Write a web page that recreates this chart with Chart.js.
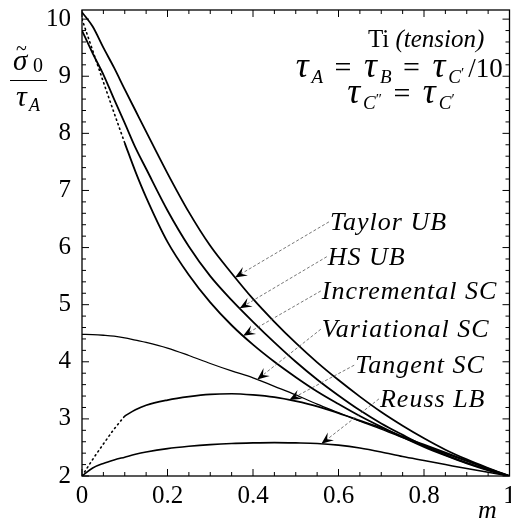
<!DOCTYPE html>
<html>
<head>
<meta charset="utf-8">
<script src="https://cdn.jsdelivr.net/npm/chart.js@4.4.1/dist/chart.umd.min.js"></script>
<style>
  html, body { margin: 0; padding: 0; background: #fff; }
</style>
</head>
<body>
<canvas id="chart" width="511" height="523"></canvas>
<script>
// abscissa m, shared by every curve
const mGrid = [0, 0.025, 0.05, 0.075, 0.1, 0.125, 0.15, 0.2, 0.25, 0.3, 0.35, 0.4, 0.45, 0.5, 0.55, 0.6, 0.65, 0.7, 0.75, 0.8, 0.85, 0.9, 0.95, 1];

const taylorUB      = [10.12, 9.87, 9.50, 9.15, 8.77, 8.40, 8.03, 7.30, 6.62, 6.03, 5.55, 5.10, 4.70, 4.33, 3.99, 3.68, 3.39, 3.12, 2.88, 2.66, 2.46, 2.29, 2.14, 2.0];
const hsUB          = [9.80, 9.40, 9.03, 8.60, 8.18, 7.75, 7.38, 6.65, 6.02, 5.50, 5.08, 4.70, 4.34, 4.00, 3.69, 3.41, 3.15, 2.92, 2.72, 2.53, 2.37, 2.23, 2.11, 2.0];
const incrementalSC = [null, null, null, null, 7.83, 7.33, 6.88, 6.10, 5.52, 5.04, 4.64, 4.30, 4.00, 3.73, 3.48, 3.26, 3.05, 2.86, 2.68, 2.51, 2.36, 2.22, 2.10, 2.0];
const variationalSC = [4.48, 4.475, 4.465, 4.45, 4.42, 4.38, 4.34, 4.24, 4.11, 3.97, 3.84, 3.72, 3.57, 3.42, 3.26, 3.11, 2.96, 2.82, 2.67, 2.53, 2.39, 2.26, 2.13, 2.0];
const tangentSC     = [null, null, null, null, 3.05, 3.16, 3.24, 3.33, 3.39, 3.43, 3.44, 3.42, 3.38, 3.31, 3.22, 3.10, 2.97, 2.84, 2.69, 2.55, 2.41, 2.27, 2.13, 2.0];
const reussLB       = [2.0, 2.14, 2.22, 2.28, 2.33, 2.38, 2.42, 2.48, 2.52, 2.55, 2.57, 2.58, 2.585, 2.58, 2.57, 2.54, 2.49, 2.42, 2.34, 2.27, 2.20, 2.13, 2.065, 2.0];

// dotted start of the incremental and tangent curves
const mDotted = [0, 0.025, 0.05, 0.075, 0.1];
const incrementalDotted = [10.0, 9.45, 8.90, 8.36, 7.83];
const tangentDotted     = [2.0, 2.29, 2.56, 2.82, 3.05];

const xTicks = [0, 0.2, 0.4, 0.6, 0.8, 1];
const yTicks = [2, 3, 4, 5, 6, 7, 8, 9, 10];

const SERIF = "'Liberation Serif', 'DejaVu Serif', serif";

// labels with leader arrows (anchor in data units, arrow tip on the curve at tipM)
const callouts = [
    { text: 'Taylor UB',      series: taylorUB,      m: 0.580, v: 6.31, tipM: 0.358 },
    { text: 'HS UB',          series: hsUB,          m: 0.575, v: 5.70, tipM: 0.369 },
    { text: 'Incremental SC', series: incrementalSC, m: 0.561, v: 5.10, tipM: 0.377 },
    { text: 'Variational SC', series: variationalSC, m: 0.561, v: 4.43, tipM: 0.410 },
    { text: 'Tangent SC',     series: tangentSC,     m: 0.639, v: 3.80, tipM: 0.485 },
    { text: 'Reuss LB',       series: reussLB,       m: 0.697, v: 3.21, tipM: 0.560 }
];

const valueAt = (series, m) => {
    for (let i = 0; i < mGrid.length - 1; i++) {
        if (m >= mGrid[i] && m <= mGrid[i + 1]) {
            const t = (m - mGrid[i]) / (mGrid[i + 1] - mGrid[i]);
            return series[i] + t * (series[i + 1] - series[i]);
        }
    }
    return series[series.length - 1];
};

const curve = (label, xs, ys, width, dotted) => ({
    label,
    data: xs.map((m, i) => ({ x: m, y: ys[i] })).filter(p => p.y !== null),
    showLine: true,
    borderColor: '#000',
    borderWidth: width,
    borderDash: dotted ? [1.2, 3.6] : [],
    borderCapStyle: dotted ? 'round' : 'butt',
    pointRadius: 0,
    cubicInterpolationMode: 'monotone',
    fill: false
});

// draw a run of text pieces (different fonts / offsets) centred at cx
const drawRuns = (ctx, runs, cx, base) => {
    let total = 0;
    runs.forEach(r => { ctx.font = r.f; total += ctx.measureText(r.t).width + (r.gap || 0); });
    let x = cx - total / 2;
    runs.forEach(r => {
        ctx.font = r.f;
        ctx.fillText(r.t, x, base + (r.dy || 0));
        x += ctx.measureText(r.t).width + (r.gap || 0);
    });
};

const frameTicks = {
    id: 'frameTicks',
    afterDatasetsDraw(chart) {
        const { ctx, chartArea: a, scales: { x, y } } = chart;
        ctx.save();
        ctx.strokeStyle = '#000';
        ctx.lineWidth = 1.3;
        ctx.strokeRect(a.left, a.top, a.right - a.left, a.bottom - a.top);
        ctx.lineWidth = 1;
        ctx.beginPath();
        for (let i = 0; i <= 20; i++) {
            const px = x.getPixelForValue(i * 0.05);
            const len = i % 4 === 0 ? 7 : 4;
            ctx.moveTo(px, a.bottom); ctx.lineTo(px, a.bottom - len);
            ctx.moveTo(px, a.top); ctx.lineTo(px, a.top + len);
        }
        for (let i = 0; i <= 40; i++) {
            const py = y.getPixelForValue(2 + i * 0.2);
            if (py < a.top) continue;
            const len = i % 5 === 0 ? 7 : 4;
            ctx.moveTo(a.left, py); ctx.lineTo(a.left + len, py);
            ctx.moveTo(a.right, py); ctx.lineTo(a.right - len, py);
        }
        ctx.stroke();
        ctx.restore();
    }
};

const annotations = {
    id: 'annotations',
    afterDraw(chart) {
        const { ctx, scales: { x, y } } = chart;
        ctx.save();
        ctx.fillStyle = '#000';
        ctx.textBaseline = 'alphabetic';

        // y axis title: sigma~_0 / tau_A
        ctx.textAlign = 'left';
        ctx.font = `italic 29px ${SERIF}`;
        ctx.fillText('σ', 13, 70);
        ctx.font = `20px ${SERIF}`;
        ctx.fillText('~', 16, 55);
        ctx.fillText('0', 33, 72);
        ctx.strokeStyle = '#000';
        ctx.lineWidth = 1;
        ctx.beginPath(); ctx.moveTo(10, 80.5); ctx.lineTo(47, 80.5); ctx.stroke();
        ctx.font = `italic 30px ${SERIF}`;
        ctx.fillText('τ', 16, 106);
        ctx.font = `italic 18px ${SERIF}`;
        ctx.fillText('A', 29, 111);

        // x axis title
        ctx.font = `italic 26px ${SERIF}`;
        ctx.fillText('m', 478, 518);

        // material / parameter block
        const up = `25px ${SERIF}`, it = `italic 25px ${SERIF}`;
        const tau = `italic 36px ${SERIF}`, sub = `italic 19px ${SERIF}`, pr = `15px ${SERIF}`;
        const eq = `30px ${SERIF}`, ten = `27px ${SERIF}`;
        drawRuns(ctx, [{ t: 'Ti ', f: up }, { t: '(tension)', f: it }], x.getPixelForValue(0.805), y.getPixelForValue(9.51));
        drawRuns(ctx, [
            { t: 'τ', f: tau, gap: 3 }, { t: 'A', f: sub, dy: 6, gap: 4 }, { t: ' = ', f: eq, gap: 5 },
            { t: 'τ', f: tau, gap: 3 }, { t: 'B', f: sub, dy: 6, gap: 4 }, { t: ' = ', f: eq, gap: 5 },
            { t: 'τ', f: tau, gap: 3 }, { t: 'C', f: sub, dy: 6 }, { t: '′', f: pr, dy: 1, gap: 4 }, { t: '/10', f: ten }
        ], x.getPixelForValue(0.742), y.getPixelForValue(8.99));
        drawRuns(ctx, [
            { t: 'τ', f: tau, gap: 3 }, { t: 'C', f: sub, dy: 6 }, { t: '″', f: pr, dy: 1, gap: 4 }, { t: ' = ', f: eq, gap: 5 },
            { t: 'τ', f: tau, gap: 3 }, { t: 'C', f: sub, dy: 6 }, { t: '′', f: pr, dy: 1 }
        ], x.getPixelForValue(0.746), y.getPixelForValue(8.53));

        // curve labels with leader lines and arrow heads
        ctx.letterSpacing = '1px';
        callouts.forEach(c => {
            const lx = x.getPixelForValue(c.m);
            const ly = y.getPixelForValue(c.v);
            ctx.font = `italic 26px ${SERIF}`;
            ctx.textAlign = 'left';
            ctx.fillText(c.text, lx, ly);

            const sx = lx - 1, sy = ly - 8;
            const tx = x.getPixelForValue(c.tipM);
            const ty = y.getPixelForValue(valueAt(c.series, c.tipM));
            ctx.strokeStyle = '#555';
            ctx.lineWidth = 0.8;
            ctx.setLineDash([3, 2]);
            ctx.beginPath(); ctx.moveTo(sx, sy); ctx.lineTo(tx, ty); ctx.stroke();
            ctx.setLineDash([]);

            const ang = Math.atan2(ty - sy, tx - sx);
            const L = 12, W = 5;
            ctx.beginPath();
            ctx.moveTo(tx, ty);
            ctx.lineTo(tx - L * Math.cos(ang) + W * Math.sin(ang), ty - L * Math.sin(ang) - W * Math.cos(ang));
            ctx.lineTo(tx - 0.6 * L * Math.cos(ang), ty - 0.6 * L * Math.sin(ang));
            ctx.lineTo(tx - L * Math.cos(ang) - W * Math.sin(ang), ty - L * Math.sin(ang) + W * Math.cos(ang));
            ctx.closePath();
            ctx.fill();
        });
        ctx.restore();
    }
};

new Chart(document.getElementById('chart'), {
    type: 'scatter',
    plugins: [frameTicks, annotations],
    data: {
        datasets: [
            curve('Taylor UB', mGrid, taylorUB, 1.8, false),
            curve('HS UB', mGrid, hsUB, 1.8, false),
            curve('Incremental SC', mGrid, incrementalSC, 1.8, false),
            curve('Incremental SC (start)', mDotted, incrementalDotted, 1.6, true),
            curve('Variational SC', mGrid, variationalSC, 1.3, false),
            curve('Tangent SC', mGrid, tangentSC, 1.7, false),
            curve('Tangent SC (start)', mDotted, tangentDotted, 1.6, true),
            curve('Reuss LB', mGrid, reussLB, 1.6, false)
        ]
    },
    options: {
        responsive: false,
        animation: false,
        layout: { padding: { top: 10, right: 1.5, left: 0, bottom: 0 } },
        plugins: { legend: { display: false }, tooltip: { enabled: false } },
        scales: {
            x: {
                type: 'linear', min: 0, max: 1,
                grid: { display: false, drawTicks: false },
                border: { display: false },
                ticks: {
                    color: '#000', padding: 5, maxRotation: 0, autoSkip: false,
                    font: { family: SERIF, size: 25 },
                    callback: v => String(+v.toFixed(1))
                },
                afterBuildTicks: s => { s.ticks = xTicks.map(v => ({ value: v })); },
                afterFit: s => { s.height = 47; s.paddingLeft = 0; s.paddingRight = 0; }
            },
            y: {
                type: 'linear', min: 2, max: 10.16,
                grid: { display: false, drawTicks: false },
                border: { display: false },
                ticks: {
                    color: '#000', padding: 11,
                    font: { family: SERIF, size: 25 },
                    callback: v => String(v)
                },
                afterBuildTicks: s => { s.ticks = yTicks.map(v => ({ value: v })); },
                afterFit: s => { s.width = 82; s.paddingTop = 0; s.paddingBottom = 0; }
            }
        }
    }
});
</script>
</body>
</html>
